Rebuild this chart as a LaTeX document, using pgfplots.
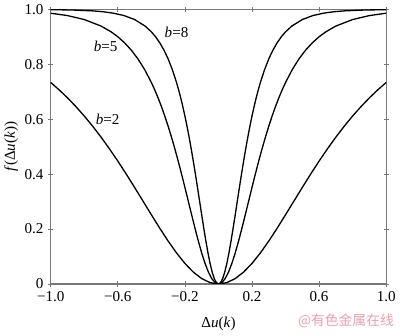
\documentclass[border=0pt]{standalone}
\usepackage{pgfplots}
\pgfplotsset{compat=1.18}
\usepackage{fontspec}
\setmainfont{Liberation Serif}
\newfontfamily\cjk{Noto Sans CJK SC}
\definecolor{axgray}{RGB}{120,120,120}
\definecolor{wmpink}{RGB}{238,160,165}
\begin{document}
\begin{tikzpicture}[x=0.75pt,y=0.75pt]
\begin{axis}[
  scale only axis,
  width=255.75pt, height=209.25pt,
  xmin=-1, xmax=1, ymin=0, ymax=1,
  axis line style={axgray, line width=0.8pt},
  tick style={axgray, line width=0.6pt},
  tick align=center,
  major tick length=4pt,
  xtick={-1,-0.6,-0.2,0.2,0.6,1},
  xticklabels={−1.0,−0.6,−0.2,0.2,0.6,1.0},
  ytick={0,0.2,0.4,0.6,0.8,1},
  yticklabels={0,0.2,0.4,0.6,0.8,1.0},
  tick label style={font=\fontsize{11.5}{13}\selectfont},
  xticklabel style={yshift=0pt},
  xlabel={Δ\textit{u}(\textit{k})},
  ylabel={\textit{f}(Δ\textit{u}(\textit{k}))},
  label style={font=\fontsize{11.5}{13}\selectfont},
  xlabel style={yshift=-5pt},
  ylabel style={yshift=-2pt},
]
% b = 2
\addplot[black, line width=1pt] coordinates {
(-1.0,0.7342)(-0.95,0.7074)(-0.9,0.6782)(-0.85,0.6464)(-0.8,0.6120)(-0.75,0.5749)(-0.7,0.5351)(-0.65,0.4926)(-0.6,0.4477)(-0.55,0.4007)(-0.5,0.3519)(-0.45,0.3022)(-0.4,0.2523)(-0.35,0.2033)(-0.3,0.1564)(-0.25,0.1132)(-0.2,0.0750)(-0.15,0.0434)(-0.1,0.0197)(-0.05,0.0050)(0,0)
(0.05,0.0050)(0.1,0.0197)(0.15,0.0434)(0.2,0.0750)(0.25,0.1132)(0.3,0.1564)(0.35,0.2033)(0.4,0.2523)(0.45,0.3022)(0.5,0.3519)(0.55,0.4007)(0.6,0.4477)(0.65,0.4926)(0.7,0.5351)(0.75,0.5749)(0.8,0.6120)(0.85,0.6464)(0.9,0.6782)(0.95,0.7074)(1.0,0.7342)
};
% b = 5
\addplot[black, line width=1pt] coordinates {
(-1.0,0.9865)(-0.9,0.9778)(-0.8,0.9634)(-0.7,0.9397)(-0.64,0.9186)(-0.6,0.9007)(-0.56,0.8788)(-0.52,0.8523)(-0.48,0.8200)(-0.44,0.7811)(-0.4,0.7342)(-0.38,0.7074)(-0.36,0.6782)(-0.34,0.6464)(-0.32,0.6120)(-0.3,0.5749)(-0.28,0.5351)(-0.26,0.4926)(-0.24,0.4477)(-0.22,0.4007)(-0.2,0.3519)(-0.18,0.3022)(-0.16,0.2523)(-0.14,0.2033)(-0.12,0.1564)(-0.1,0.1132)(-0.08,0.0750)(-0.06,0.0434)(-0.04,0.0197)(-0.02,0.0050)(0,0)
(0.02,0.0050)(0.04,0.0197)(0.06,0.0434)(0.08,0.0750)(0.1,0.1132)(0.12,0.1564)(0.14,0.2033)(0.16,0.2523)(0.18,0.3022)(0.2,0.3519)(0.22,0.4007)(0.24,0.4477)(0.26,0.4926)(0.28,0.5351)(0.3,0.5749)(0.32,0.6120)(0.34,0.6464)(0.36,0.6782)(0.38,0.7074)(0.4,0.7342)(0.44,0.7811)(0.48,0.8200)(0.52,0.8523)(0.56,0.8788)(0.6,0.9007)(0.64,0.9186)(0.7,0.9397)(0.8,0.9634)(0.9,0.9778)(1.0,0.9865)
};
% b = 8
\addplot[black, line width=1pt] coordinates {
(-1.0,0.9993)(-0.875,0.9982)(-0.75,0.9950)(-0.6875,0.9918)(-0.625,0.9865)(-0.5625,0.9778)(-0.5,0.9634)(-0.4375,0.9397)(-0.4,0.9186)(-0.375,0.9007)(-0.35,0.8788)(-0.325,0.8523)(-0.3,0.8200)(-0.275,0.7811)(-0.25,0.7342)(-0.2375,0.7074)(-0.225,0.6782)(-0.2125,0.6464)(-0.2,0.6120)(-0.1875,0.5749)(-0.175,0.5351)(-0.1625,0.4926)(-0.15,0.4477)(-0.1375,0.4007)(-0.125,0.3519)(-0.1125,0.3022)(-0.1,0.2523)(-0.0875,0.2033)(-0.075,0.1564)(-0.0625,0.1132)(-0.05,0.0750)(-0.0375,0.0434)(-0.025,0.0197)(-0.0125,0.0050)(0,0)
(0.0125,0.0050)(0.025,0.0197)(0.0375,0.0434)(0.05,0.0750)(0.0625,0.1132)(0.075,0.1564)(0.0875,0.2033)(0.1,0.2523)(0.1125,0.3022)(0.125,0.3519)(0.1375,0.4007)(0.15,0.4477)(0.1625,0.4926)(0.175,0.5351)(0.1875,0.5749)(0.2,0.6120)(0.2125,0.6464)(0.225,0.6782)(0.2375,0.7074)(0.25,0.7342)(0.275,0.7811)(0.3,0.8200)(0.325,0.8523)(0.35,0.8788)(0.375,0.9007)(0.4,0.9186)(0.4375,0.9397)(0.5,0.9634)(0.5625,0.9778)(0.625,0.9865)(0.6875,0.9918)(0.75,0.9950)(0.875,0.9982)(1.0,0.9993)
};
\node[font=\fontsize{11.5}{13}\selectfont] at (axis cs:-0.25,0.915) {\textit{b}=8};
\node[font=\fontsize{11.5}{13}\selectfont] at (axis cs:-0.672,0.867) {\textit{b}=5};
\node[font=\fontsize{11.5}{13}\selectfont] at (axis cs:-0.66,0.599) {\textit{b}=2};
\end{axis}
\node[anchor=east, text=wmpink, font=\cjk\fontsize{10.5}{12}\selectfont, inner sep=0pt]
  at ([xshift=6pt,yshift=-28pt]current axis.south east) {@有色金属在线};
\end{tikzpicture}
\end{document}
